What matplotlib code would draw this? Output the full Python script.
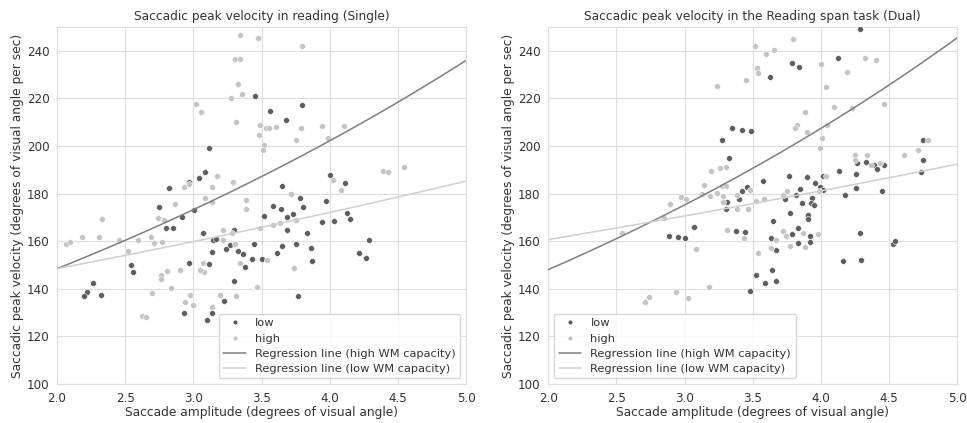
import numpy as np
import matplotlib
matplotlib.use("Agg")
import matplotlib.pyplot as plt
from matplotlib.lines import Line2D
import seaborn as sns

sns.set_style("whitegrid")
plt.rcParams['font.family'] = ['DejaVu Sans']

# --- Single task (reading) ---
single_low_amp = [3.449, 3.562, 3.679, 3.112, 3.085, 3.041, 2.970, 2.823, 3.650, 2.746,
                  3.005, 3.587, 3.641, 3.520, 2.920, 2.797, 2.853, 3.073, 3.146, 3.163,
                  3.298, 3.270, 3.237, 3.136, 3.330, 3.365, 3.446, 3.431, 3.382, 3.610,
                  3.653, 3.690, 3.687, 3.504, 2.970, 3.112, 2.543, 2.557, 2.266, 2.218,
                  2.198, 2.323, 3.298, 3.222, 2.934, 3.134, 3.100, 4.111, 3.779, 3.801,
                  3.975, 3.728, 3.833, 3.943, 4.033, 4.124, 4.146, 4.287, 4.214, 4.265,
                  3.752, 3.862, 3.870, 3.769, 3.796, 4.000]
single_low_vel = [221.1, 214.7, 211.1, 199.2, 189.1, 186.6, 184.8, 182.2, 183.4, 174.3,
                  173.2, 174.9, 173.4, 170.5, 170.4, 165.4, 165.4, 163.5, 160.4, 161.0,
                  164.9, 158.6, 156.6, 155.7, 156.1, 154.5, 158.7, 152.4, 149.3, 155.2,
                  158.1, 164.6, 170.0, 152.6, 150.7, 150.6, 149.9, 146.9, 142.3, 138.6,
                  137.2, 137.6, 143.4, 134.8, 129.9, 129.9, 127.0, 184.3, 178.0, 174.2,
                  176.9, 171.6, 163.5, 168.2, 168.4, 172.0, 169.4, 160.6, 155.2, 152.8,
                  159.0, 157.3, 151.9, 137.0, 217.1, 188.0]

single_high_amp = [3.344, 3.474, 3.306, 3.339, 3.325, 3.278, 3.354, 3.310, 3.019, 3.056,
                   3.491, 3.532, 3.557, 3.603, 3.481, 3.516, 3.511, 3.171, 3.288, 3.134,
                   2.931, 2.965, 3.087, 3.134, 2.867, 3.386, 3.388, 2.066, 2.095, 2.183,
                   2.308, 2.328, 2.452, 2.521, 2.596, 2.687, 2.711, 2.768, 2.738, 2.784,
                   3.217, 3.281, 3.219, 3.306, 3.491, 3.584, 3.635, 3.537, 3.344, 3.068,
                   3.076, 3.048, 2.904, 2.809, 2.762, 2.765, 2.834, 2.694, 2.975, 2.938,
                   3.000, 3.195, 3.314, 3.139, 3.464, 2.621, 2.653, 3.750, 3.713, 4.082,
                   3.738, 3.796, 3.787, 3.752, 3.943, 4.106, 3.985, 4.392, 4.429, 4.546,
                   4.027]
single_high_vel = [246.5, 245.5, 236.4, 236.4, 226.2, 220.3, 222.0, 210.1, 217.8, 214.3,
                   208.7, 207.7, 207.7, 208.1, 204.5, 200.4, 198.4, 187.4, 185.1, 182.8,
                   182.7, 183.9, 178.3, 176.6, 175.6, 177.5, 173.4, 159.0, 159.9, 161.6,
                   162.0, 169.2, 160.4, 156.0, 160.4, 161.9, 159.2, 159.9, 169.7, 169.0,
                   164.6, 163.5, 160.7, 158.9, 165.4, 166.8, 167.8, 152.0, 150.9, 151.0,
                   147.2, 148.1, 147.9, 147.5, 145.7, 144.0, 140.2, 138.2, 137.5, 134.6,
                   133.4, 137.6, 137.1, 132.2, 141.0, 128.6, 128.1, 168.9, 180.0, 181.4,
                   148.9, 242.2, 207.6, 202.6, 208.3, 208.5, 203.5, 189.7, 188.9, 191.2,
                   185.7]

# --- Dual task (reading span) ---
dual_low_amp = [3.347, 3.422, 3.490, 3.273, 3.329, 3.420, 3.454, 3.398, 3.312, 3.303,
                4.289, 3.787, 3.840, 4.128, 3.628, 4.749, 4.749, 4.732, 4.263, 4.329,
                4.388, 4.410, 4.463, 4.134, 4.260, 4.260, 4.451, 4.175, 4.016, 3.769,
                3.897, 3.574, 3.958, 3.992, 4.014, 3.848, 3.816, 3.738, 3.935, 3.860,
                3.926, 3.948, 3.774, 3.906, 3.903, 3.647, 3.442, 3.633, 3.667, 3.787,
                3.833, 3.828, 3.919, 3.921, 3.642, 3.669, 3.589, 3.523, 3.476, 4.289,
                4.163, 4.297, 4.529, 4.542, 2.885, 2.951, 3.000, 3.070, 3.378]
dual_low_vel = [207.6, 206.8, 206.4, 202.6, 195.0, 181.1, 182.8, 177.9, 176.3, 173.5,
                249.3, 235.0, 233.2, 237.1, 229.1, 202.5, 194.1, 189.1, 192.8, 193.3,
                192.1, 190.5, 192.1, 189.4, 188.1, 182.4, 181.1, 179.4, 187.3, 187.6,
                186.9, 185.2, 184.5, 183.0, 181.5, 181.8, 179.4, 177.9, 178.1, 176.2,
                176.2, 175.2, 172.0, 171.0, 169.4, 168.4, 163.8, 161.3, 156.4, 163.2,
                165.4, 159.3, 162.1, 159.5, 147.8, 143.4, 142.4, 145.9, 139.1, 163.5,
                151.7, 152.3, 159.0, 160.2, 162.1, 161.7, 161.4, 165.9, 164.4]

dual_high_amp = [3.513, 3.530, 3.537, 3.447, 3.237, 3.190, 3.263, 3.300, 3.144, 3.273,
                 3.307, 3.481, 2.973, 3.010, 2.889, 3.131, 3.183, 3.237, 3.281, 3.381,
                 3.278, 3.385, 3.468, 3.523, 3.798, 3.596, 3.657, 4.001, 4.036, 4.190,
                 4.324, 4.400, 4.092, 4.231, 4.463, 3.884, 3.823, 3.813, 3.899, 4.045,
                 4.011, 3.992, 4.251, 4.251, 4.341, 4.366, 4.434, 4.612, 4.713, 4.788,
                 3.725, 3.752, 4.036, 3.985, 3.584, 3.725, 3.745, 3.672, 3.633, 3.867,
                 3.977, 3.884, 3.772, 3.437, 3.535, 2.537, 2.850, 3.080, 3.180, 2.933,
                 3.024, 2.740, 2.711, 3.312]
dual_high_vel = [242.0, 232.9, 230.6, 227.9, 225.1, 189.7, 190.8, 191.1, 183.8, 183.1,
                 183.2, 181.5, 178.7, 177.9, 175.5, 179.7, 179.2, 180.1, 179.0, 179.6,
                 176.3, 173.4, 173.4, 176.8, 244.8, 238.8, 240.3, 234.3, 225.0, 231.1,
                 237.2, 236.0, 216.5, 215.9, 217.6, 214.4, 208.8, 207.8, 206.0, 208.9,
                 203.2, 199.2, 196.2, 194.3, 196.2, 192.1, 192.7, 196.3, 198.4, 202.6,
                 179.4, 181.3, 187.4, 181.0, 177.6, 164.2, 162.4, 160.7, 157.0, 163.5,
                 163.2, 157.5, 158.2, 161.3, 155.2, 163.5, 169.9, 156.9, 140.6, 138.5,
                 136.2, 136.5, 134.3, 164.9]

# regression fits on log(velocity) = a + b * amplitude
single_fit_high = (4.6918, 0.1544)
single_fit_low = (4.8530, 0.0738)
dual_fit_high = (4.6609, 0.1685)
dual_fit_low = (4.9596, 0.0600)

titles = ["Saccadic peak velocity in reading (Single)",
          "Saccadic peak velocity in the Reading span task (Dual)"]

dark_dot = '#5e5e5e'
light_dot = '#c4c4c4'
dark_line = '#7f7f7f'
light_line = '#cfcfcf'

fig = plt.figure(figsize=(9.67, 4.23), dpi=100)
ax1 = fig.add_axes([0.059, 0.092, 0.423, 0.844])
ax2 = fig.add_axes([0.567, 0.092, 0.423, 0.844])

panels = [
    (ax1, single_low_amp, single_low_vel, single_high_amp, single_high_vel,
     single_fit_high, single_fit_low, 'lower right'),
    (ax2, dual_low_amp, dual_low_vel, dual_high_amp, dual_high_vel,
     dual_fit_high, dual_fit_low, 'lower left'),
]

xs = np.linspace(2.0, 5.0, 100)
for i, (ax, lx, ly, hx, hy, fh, fl, loc) in enumerate(panels):
    ax.scatter(lx, ly, s=18, color=dark_dot, edgecolor='white', linewidth=0.4, zorder=3)
    ax.scatter(hx, hy, s=18, color=light_dot, edgecolor='white', linewidth=0.4, zorder=3)
    ax.plot(xs, np.exp(fh[0] + fh[1] * xs), color=dark_line, lw=1.1, zorder=4)
    ax.plot(xs, np.exp(fl[0] + fl[1] * xs), color=light_line, lw=1.1, zorder=4)

    ax.set_xlim(2.0, 5.0)
    ax.set_ylim(100, 250)
    ax.set_xticks([2.0, 2.5, 3.0, 3.5, 4.0, 4.5, 5.0])
    ax.set_yticks([100, 120, 140, 160, 180, 200, 220, 240])
    ax.tick_params(labelsize=8.6, pad=2, colors='#333333')
    ax.set_title(titles[i], fontsize=8.8, color='#333333', pad=5)
    ax.set_xlabel("Saccade amplitude (degrees of visual angle)", fontsize=8.8,
                  color='#333333', labelpad=1)
    ax.set_ylabel("Saccadic peak velocity (degrees of visual angle per sec)",
                  fontsize=8.8, color='#333333', labelpad=2)
    ax.grid(color='#dddddd', lw=0.8)
    for sp in ax.spines.values():
        sp.set_color('#dddddd')

    handles = [
        Line2D([], [], marker='o', ls='', color=dark_dot, markeredgecolor='white',
               markersize=4),
        Line2D([], [], marker='o', ls='', color=light_dot, markeredgecolor='white',
               markersize=4),
        Line2D([], [], color=dark_line, lw=1.1),
        Line2D([], [], color=light_line, lw=1.1),
    ]
    labels = ['low', 'high', 'Regression line (high WM capacity)',
              'Regression line (low WM capacity)']
    leg = ax.legend(handles, labels, loc=loc, fontsize=8.2, frameon=True,
                    handlelength=2.0, labelspacing=0.45, borderpad=0.4)
    for t in leg.get_texts():
        t.set_color('#333333')

fig.savefig("out.png", dpi=100)
